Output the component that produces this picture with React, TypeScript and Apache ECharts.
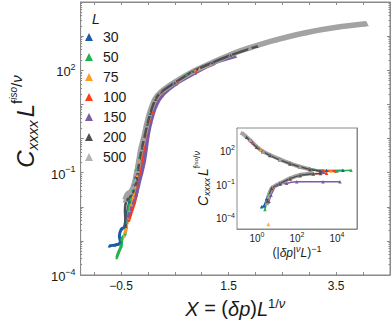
import React, { useEffect, useRef } from "react";
import * as echarts from "echarts";

const FONT = "'Liberation Sans', Arial, Helvetica, sans-serif";

const sizeLabels = ["30", "50", "75", "100", "150", "200", "500"];
const sizeColors = ["#1b5ca8", "#22b24c", "#ff9c2c", "#ff3c14", "#7b5aa6", "#4f4f4f", "#a3a3a3"];
const legendColors = ["#1b5ca8", "#22b24c", "#ff9c2c", "#ff3c14", "#7b5aa6", "#4f4f4f", "#b3b3b3"];

// main panel: X = (dp) L^(1/nu), C L^(f/nu)
const main30 = [[-0.72, 7.1e-4], [-0.62, 7.5e-4], [-0.55, 8.0e-4], [-0.51, 9.2e-4], [-0.53, 1.37e-3], [-0.495, 2.2e-3], [-0.44, 2.5e-3], [-0.41, 4.2e-3], [-0.34, 0.014], [-0.3, 0.024], [-0.27, 0.043], [-0.235, 0.073], [-0.19, 0.14], [-0.155, 0.28], [-0.12, 0.53], [-0.09, 1.0], [-0.035, 2.5], [0.02, 5.4], [0.12, 14], [0.24, 23], [0.45, 40]];
const main50 = [[-0.58, 3.2e-4], [-0.55, 4.4e-4], [-0.495, 7.1e-4], [-0.48, 1.2e-3], [-0.425, 1.56e-3], [-0.39, 3.5e-3], [-0.355, 8.2e-3], [-0.32, 0.016], [-0.285, 0.031], [-0.25, 0.059], [-0.215, 0.124], [-0.16, 0.28], [-0.125, 0.53], [-0.09, 1.0], [-0.035, 2.5], [0.02, 5.4], [0.12, 14], [0.24, 23], [0.49, 45], [0.72, 75]];
const main75 = [[-0.44, 1.37e-3], [-0.41, 2.3e-3], [-0.37, 4.5e-3], [-0.34, 7.7e-3], [-0.3, 0.0114], [-0.27, 0.0194], [-0.235, 0.038], [-0.2, 0.083], [-0.165, 0.2], [-0.13, 0.47], [-0.08, 1.0], [-0.01, 2.6], [0.045, 5.4], [0.14, 14], [0.25, 23], [0.51, 45], [0.88, 100], [0.96, 113]];
const main100 = [[-0.355, 3.96e-3], [-0.32, 5.9e-3], [-0.285, 8.75e-3], [-0.25, 0.013], [-0.215, 0.022], [-0.18, 0.043], [-0.145, 0.095], [-0.11, 0.225], [-0.06, 0.53], [-0.01, 1.26], [0.045, 3.2], [0.1, 6.2], [0.17, 13], [0.27, 22], [0.55, 45], [0.9, 94], [1.21, 150]];
const main150 = [[-0.39, 4.2e-3], [-0.355, 5.9e-3], [-0.32, 8.2e-3], [-0.27, 0.013], [-0.215, 0.022], [-0.165, 0.046], [-0.11, 0.1], [-0.06, 0.225], [-0.025, 0.53], [0.01, 1.26], [0.06, 3.0], [0.15, 8.6], [0.27, 17.9], [0.53, 39.5], [0.88, 82], [1.23, 160], [1.63, 253]];
const main200 = [[-0.41, 2.65e-3], [-0.425, 8.2e-3], [-0.41, 0.013], [-0.37, 0.017], [-0.32, 0.0207], [-0.27, 0.0288], [-0.215, 0.052], [-0.18, 0.124], [-0.145, 0.28], [-0.11, 0.53], [-0.06, 1.18], [-0.01, 2.6], [0.045, 5.4], [0.14, 14], [0.25, 23], [0.5, 43], [0.84, 93], [1.19, 165], [1.54, 275], [2.03, 500]];
const main500 = [[-0.425, 0.0159], [-0.39, 0.0221], [-0.355, 0.0253], [-0.32, 0.027], [-0.27, 0.0377], [-0.235, 0.06], [-0.2, 0.116], [-0.165, 0.24], [-0.13, 0.5], [-0.08, 1.0], [-0.025, 2.5], [0.03, 5.4], [0.13, 14], [0.24, 23], [0.5, 45], [0.84, 93], [1.19, 166], [1.54, 288], [1.9, 457], [2.36, 760], [2.93, 1260], [3.51, 1820], [4.06, 2290]];
const mainData = [main30, main50, main75, main100, main150, main200, main500];

// inset: x = (|dp|^nu L)^-1 ; upper and lower branches
const insetUp30 = [[2, 80], [4.5, 40], [14, 16], [45, 7.3], [141, 3.6], [447, 2.2], [3000, 1.6], [20000, 1.7]];
const insetLow30 = [[1.7, 9.8e-4], [2.2, 1.1e-3], [3, 5e-3], [5.4, 0.045], [14, 0.12], [45, 0.34], [141, 0.7]];
const insetUp50 = [[1, 220], [4.5, 41], [14, 17], [45, 7.5], [141, 3.7], [447, 2.3], [2000, 1.6], [10000, 1.5], [50000, 1.7]];
const insetLow50 = [[2.5, 5.6e-4], [3, 2e-3], [3.7, 1e-2], [5.4, 0.05], [14, 0.13], [45, 0.35], [141, 0.7]];
const insetUp75 = [[1.5, 120], [4.5, 40], [45, 7], [447, 2.1], [5000, 1.5]];
const insetLow75 = [[3.7, 2.7e-3], [4.2, 1e-2], [6, 0.045], [14, 0.11], [45, 0.32], [141, 0.63]];
const insetOutlier75 = [[3.7, 2.6e-5]];
const insetUp100 = [[0.6, 500], [2, 75], [4.5, 37], [14, 15], [45, 6.8], [141, 3.4], [447, 2.1], [2000, 1.5], [8000, 1.5]];
const insetLow100 = [[3.5, 2.5e-3], [4, 8e-3], [6, 0.04], [14, 0.1], [45, 0.3], [141, 0.6], [650, 0.85], [3000, 0.95]];
const insetUp150 = [[0.5, 700], [0.97, 210], [4.5, 38], [45, 6.9], [447, 2.0], [2000, 1.4]];
const insetLow150 = [[4, 3e-3], [5, 1e-2], [9.7, 0.083], [30, 0.12], [97, 0.16], [2000, 0.16], [14000, 0.16]];
const insetUp200 = [[0.3, 1500], [0.97, 190], [4.5, 35], [45, 6.5], [447, 2.0], [1500, 1.4]];
const insetLow200 = [[3.3, 3e-3], [5.4, 0.04], [14, 0.11], [45, 0.3], [141, 0.6], [650, 0.85], [1500, 0.9]];
const insetUp500 = [[0.17, 3800], [0.45, 850], [0.97, 214], [2.07, 78], [4.5, 39], [14, 16], [45, 7.1], [141, 3.5], [447, 2.1]];
const insetLow500 = [[3.2, 2e-3], [3.7, 7.6e-3], [5.4, 0.043], [14, 0.117], [45, 0.33], [141, 0.65], [650, 0.91]];
const insetUp = [insetUp30, insetUp50, insetUp75, insetUp100, insetUp150, insetUp200, insetUp500];
const insetLow = [insetLow30, insetLow50, insetLow75, insetLow100, insetLow150, insetLow200, insetLow500];

const xTickValues = [-1, -0.5, 0, 0.5, 1, 1.5, 2, 2.5, 3, 3.5, 4];
const xLabelValues = [-0.5, 1.5, 3.5];
const mainYLabelExps = [-4, -1, 2];
const insetXLabelExps = [0, 2, 4];
const insetYLabelExps = [-4, -1, 2];

const AXIS_COLOR = "#8a8a8a";
const LABEL_COLOR = "#1a1a1a";

function expFmt(list: number[]) {
  return (v: number) => {
    const e = Math.round(Math.log10(v));
    if (!list.includes(e)) return "";
    const s = e < 0 ? "\u2212" + Math.abs(e) : String(e);
    return "{b|10}{s|" + s + "}";
  };
}

function supRich(base: number, sup: number, raise: number) {
  return {
    b: { fontSize: base, fontFamily: FONT, color: LABEL_COLOR, verticalAlign: "bottom" },
    s: { fontSize: sup, fontFamily: FONT, color: LABEL_COLOR, verticalAlign: "bottom", padding: [0, 0, raise, 0] },
  };
}

function logAxis(grid: number, min: number, max: number, pos: string, labels: number[] | null, base: number, sup: number, raise: number, margin: number, minor: boolean, extra: any = {}) {
  return {
    type: "log",
    logBase: 10,
    gridIndex: grid,
    min,
    max,
    interval: 1,
    position: pos,
    axisLine: { show: true, onZero: false, lineStyle: { color: AXIS_COLOR, width: 1 } },
    axisTick: { show: true, inside: true, length: 3, lineStyle: { color: AXIS_COLOR } },
    minorTick: { show: minor, splitNumber: 9, length: 1.5, lineStyle: { color: AXIS_COLOR } },
    splitLine: { show: false },
    axisLabel: labels
      ? { show: true, formatter: expFmt(labels), rich: supRich(base, sup, raise), margin, hideOverlap: false, showMinLabel: true, showMaxLabel: true }
      : { show: false },
    ...extra,
  };
}

export default function App() {
  const ref = useRef<HTMLDivElement>(null);
  useEffect(() => {
    if (!ref.current) return;
    const chart = echarts.init(ref.current, null, { renderer: "svg" });

    const series: any[] = [];
    const order = [0, 1, 2, 3, 4, 6, 5];
    order.forEach((i) => {
      const isBig = i === 6;
      series.push({
        name: sizeLabels[i],
        type: "line",
        xAxisIndex: 0,
        yAxisIndex: 0,
        data: mainData[i],
        smooth: 0.3,
        symbol: "triangle",
        symbolSize: isBig ? 5 : 3,
        showSymbol: true,
        itemStyle: { color: sizeColors[i] },
        lineStyle: { color: sizeColors[i], width: isBig ? 5.5 : i === 5 ? 2.5 : 3 },
        z: 2,
      });
    });
    order.forEach((i) => {
      const isBig = i === 6;
      [insetUp[i], insetLow[i]].forEach((d) => {
        series.push({
          name: sizeLabels[i],
          type: "line",
          xAxisIndex: 2,
          yAxisIndex: 2,
          data: d,
          smooth: 0.25,
          symbol: "triangle",
          symbolSize: isBig ? 4 : 3.5,
          showSymbol: true,
          itemStyle: { color: sizeColors[i] },
          lineStyle: { color: sizeColors[i], width: isBig ? 4 : 1.5 },
          z: 3,
        });
      });
    });
    series.push({
      name: sizeLabels[2],
      type: "scatter",
      xAxisIndex: 2,
      yAxisIndex: 2,
      data: insetOutlier75,
      symbol: "triangle",
      symbolSize: 4,
      itemStyle: { color: sizeColors[2] },
      z: 3,
    });

    const nameRich = (big: number, small: number, tiny: number, raise1: number, raise2: number, pad: number) => ({
      c: { fontSize: big, fontStyle: "italic", fontFamily: FONT, color: LABEL_COLOR, verticalAlign: "bottom", padding: [0, 0, pad, 0] },
      sub: { fontSize: small, fontStyle: "italic", fontFamily: FONT, color: LABEL_COLOR, verticalAlign: "bottom", padding: [0, pad, 0, 0] },
      l: { fontSize: big, fontStyle: "italic", fontFamily: FONT, color: LABEL_COLOR, verticalAlign: "bottom", padding: [0, 0, pad, 0] },
      sup: { fontSize: small, fontFamily: FONT, color: LABEL_COLOR, verticalAlign: "bottom", padding: [0, 0, raise1, 0] },
      supi: { fontSize: small, fontStyle: "italic", fontFamily: FONT, color: LABEL_COLOR, verticalAlign: "bottom", padding: [0, 0, raise1, 0] },
      sup2: { fontSize: tiny, fontStyle: "italic", fontFamily: FONT, color: LABEL_COLOR, verticalAlign: "bottom", padding: [0, 0, raise2, 0] },
    });

    const option: any = {
      animation: false,
      backgroundColor: "#ffffff",
      textStyle: { fontFamily: FONT },
      grid: [
        { left: 60, top: 2, width: 330, height: 278, show: true, borderColor: AXIS_COLOR, borderWidth: 1, backgroundColor: "transparent", containLabel: false },
        { left: 237, top: 128, width: 120, height: 101, show: true, borderColor: AXIS_COLOR, borderWidth: 1, backgroundColor: "#ffffff", containLabel: false, z: 1 },
      ],
      legend: {
        data: sizeLabels.map((s, i) => ({ name: s, icon: "triangle", itemStyle: { color: legendColors[i] } })),
        orient: "vertical",
        left: 80,
        top: 25,
        itemWidth: 8,
        itemHeight: 8,
        itemGap: 6,
        textStyle: { fontSize: 14, fontFamily: FONT, color: LABEL_COLOR, lineHeight: 14, padding: [0, 0, 0, 5] },
        selectedMode: false,
      },
      graphic: [
        { type: "text", left: 92, top: 12, style: { text: "L", fontSize: 14, fontStyle: "italic", fontFamily: FONT, fill: LABEL_COLOR } },
      ],
      xAxis: [
        {
          type: "value",
          gridIndex: 0,
          min: -1.25,
          max: 4.5,
          position: "bottom",
          axisLine: { show: true, onZero: false, lineStyle: { color: AXIS_COLOR } },
          axisTick: { show: true, inside: true, length: 3, customValues: xTickValues, lineStyle: { color: AXIS_COLOR } },
          splitLine: { show: false },
          axisLabel: {
            customValues: xLabelValues,
            fontSize: 12,
            color: LABEL_COLOR,
            margin: 5,
            formatter: (v: number) => (v < 0 ? "\u2212" + Math.abs(v) : String(v)),
          },
          name: "{i|X} = ({i|\u03b4p}){i|L}{s|1/}{si|\u03bd}",
          nameLocation: "middle",
          nameGap: 22,
          nameTextStyle: {
            fontSize: 20,
            fontFamily: FONT,
            color: LABEL_COLOR,
            verticalAlign: "top",
            rich: {
              i: { fontSize: 20, fontStyle: "italic", fontFamily: FONT, color: LABEL_COLOR, verticalAlign: "bottom" },
              s: { fontSize: 13, fontFamily: FONT, color: LABEL_COLOR, verticalAlign: "bottom", padding: [0, 0, 9, 0] },
              si: { fontSize: 13, fontStyle: "italic", fontFamily: FONT, color: LABEL_COLOR, verticalAlign: "bottom", padding: [0, 0, 9, 0] },
            },
          },
        },
        {
          type: "value",
          gridIndex: 0,
          min: -1.25,
          max: 4.5,
          position: "top",
          axisLine: { show: true, onZero: false, lineStyle: { color: AXIS_COLOR } },
          axisTick: { show: true, inside: true, length: 3, customValues: xTickValues, lineStyle: { color: AXIS_COLOR } },
          splitLine: { show: false },
          axisLabel: { show: false },
        },
        logAxis(1, 0.1, 1e5, "bottom", insetXLabelExps, 10, 7, 5, 2, false, {
          name: "(|{i|\u03b4p}|{si|\u03bd}{i|L}){s|\u22121}",
          nameLocation: "middle",
          nameGap: 15,
          nameTextStyle: {
            fontSize: 12,
            fontFamily: FONT,
            color: LABEL_COLOR,
            verticalAlign: "top",
            rich: {
              i: { fontSize: 12, fontStyle: "italic", fontFamily: FONT, color: LABEL_COLOR, verticalAlign: "bottom" },
              s: { fontSize: 9, fontFamily: FONT, color: LABEL_COLOR, verticalAlign: "bottom", padding: [0, 0, 6, 0] },
              si: { fontSize: 9, fontStyle: "italic", fontFamily: FONT, color: LABEL_COLOR, verticalAlign: "bottom", padding: [0, 0, 6, 0] },
            },
          },
        }),
        logAxis(1, 0.1, 1e5, "top", null, 10, 7, 5, 2, false),
      ],
      yAxis: [
        logAxis(0, 1e-4, 1e4, "left", mainYLabelExps, 13, 9, 7, 5, true, {
          name: "{c|C}{sub|xxxx}{l|L}{sup|f}{sup2|iso}{sup|/}{supi|\u03bd}",
          nameLocation: "middle",
          nameGap: 39,
          nameRotate: 90,
          nameTextStyle: {
            fontFamily: FONT,
            color: LABEL_COLOR,
            padding: [0, 0, 0, 34],
            rich: nameRich(24, 15, 10, 16, 22, 3),
          },
        }),
        logAxis(0, 1e-4, 1e4, "right", null, 13, 9, 7, 5, true),
        logAxis(1, 1e-5, 1e4, "left", insetYLabelExps, 10, 7, 5, 2, false, {
          name: "{c|C}{sub|xxxx}{l|L}{sup|f}{sup2|iso}{sup|/}{supi|\u03bd}",
          nameLocation: "middle",
          nameGap: 22,
          nameRotate: 90,
          nameTextStyle: {
            fontFamily: FONT,
            color: LABEL_COLOR,
            rich: nameRich(14, 9, 6, 10, 13, 2),
          },
        }),
        logAxis(1, 1e-5, 1e4, "right", null, 10, 7, 5, 2, false),
      ],
      series,
    };
    chart.setOption(option);
    return () => chart.dispose();
  }, []);
  return <div ref={ref} style={{ position: "absolute", left: 0, top: 0, width: 392, height: 324, background: "#fff" }} />;
}
